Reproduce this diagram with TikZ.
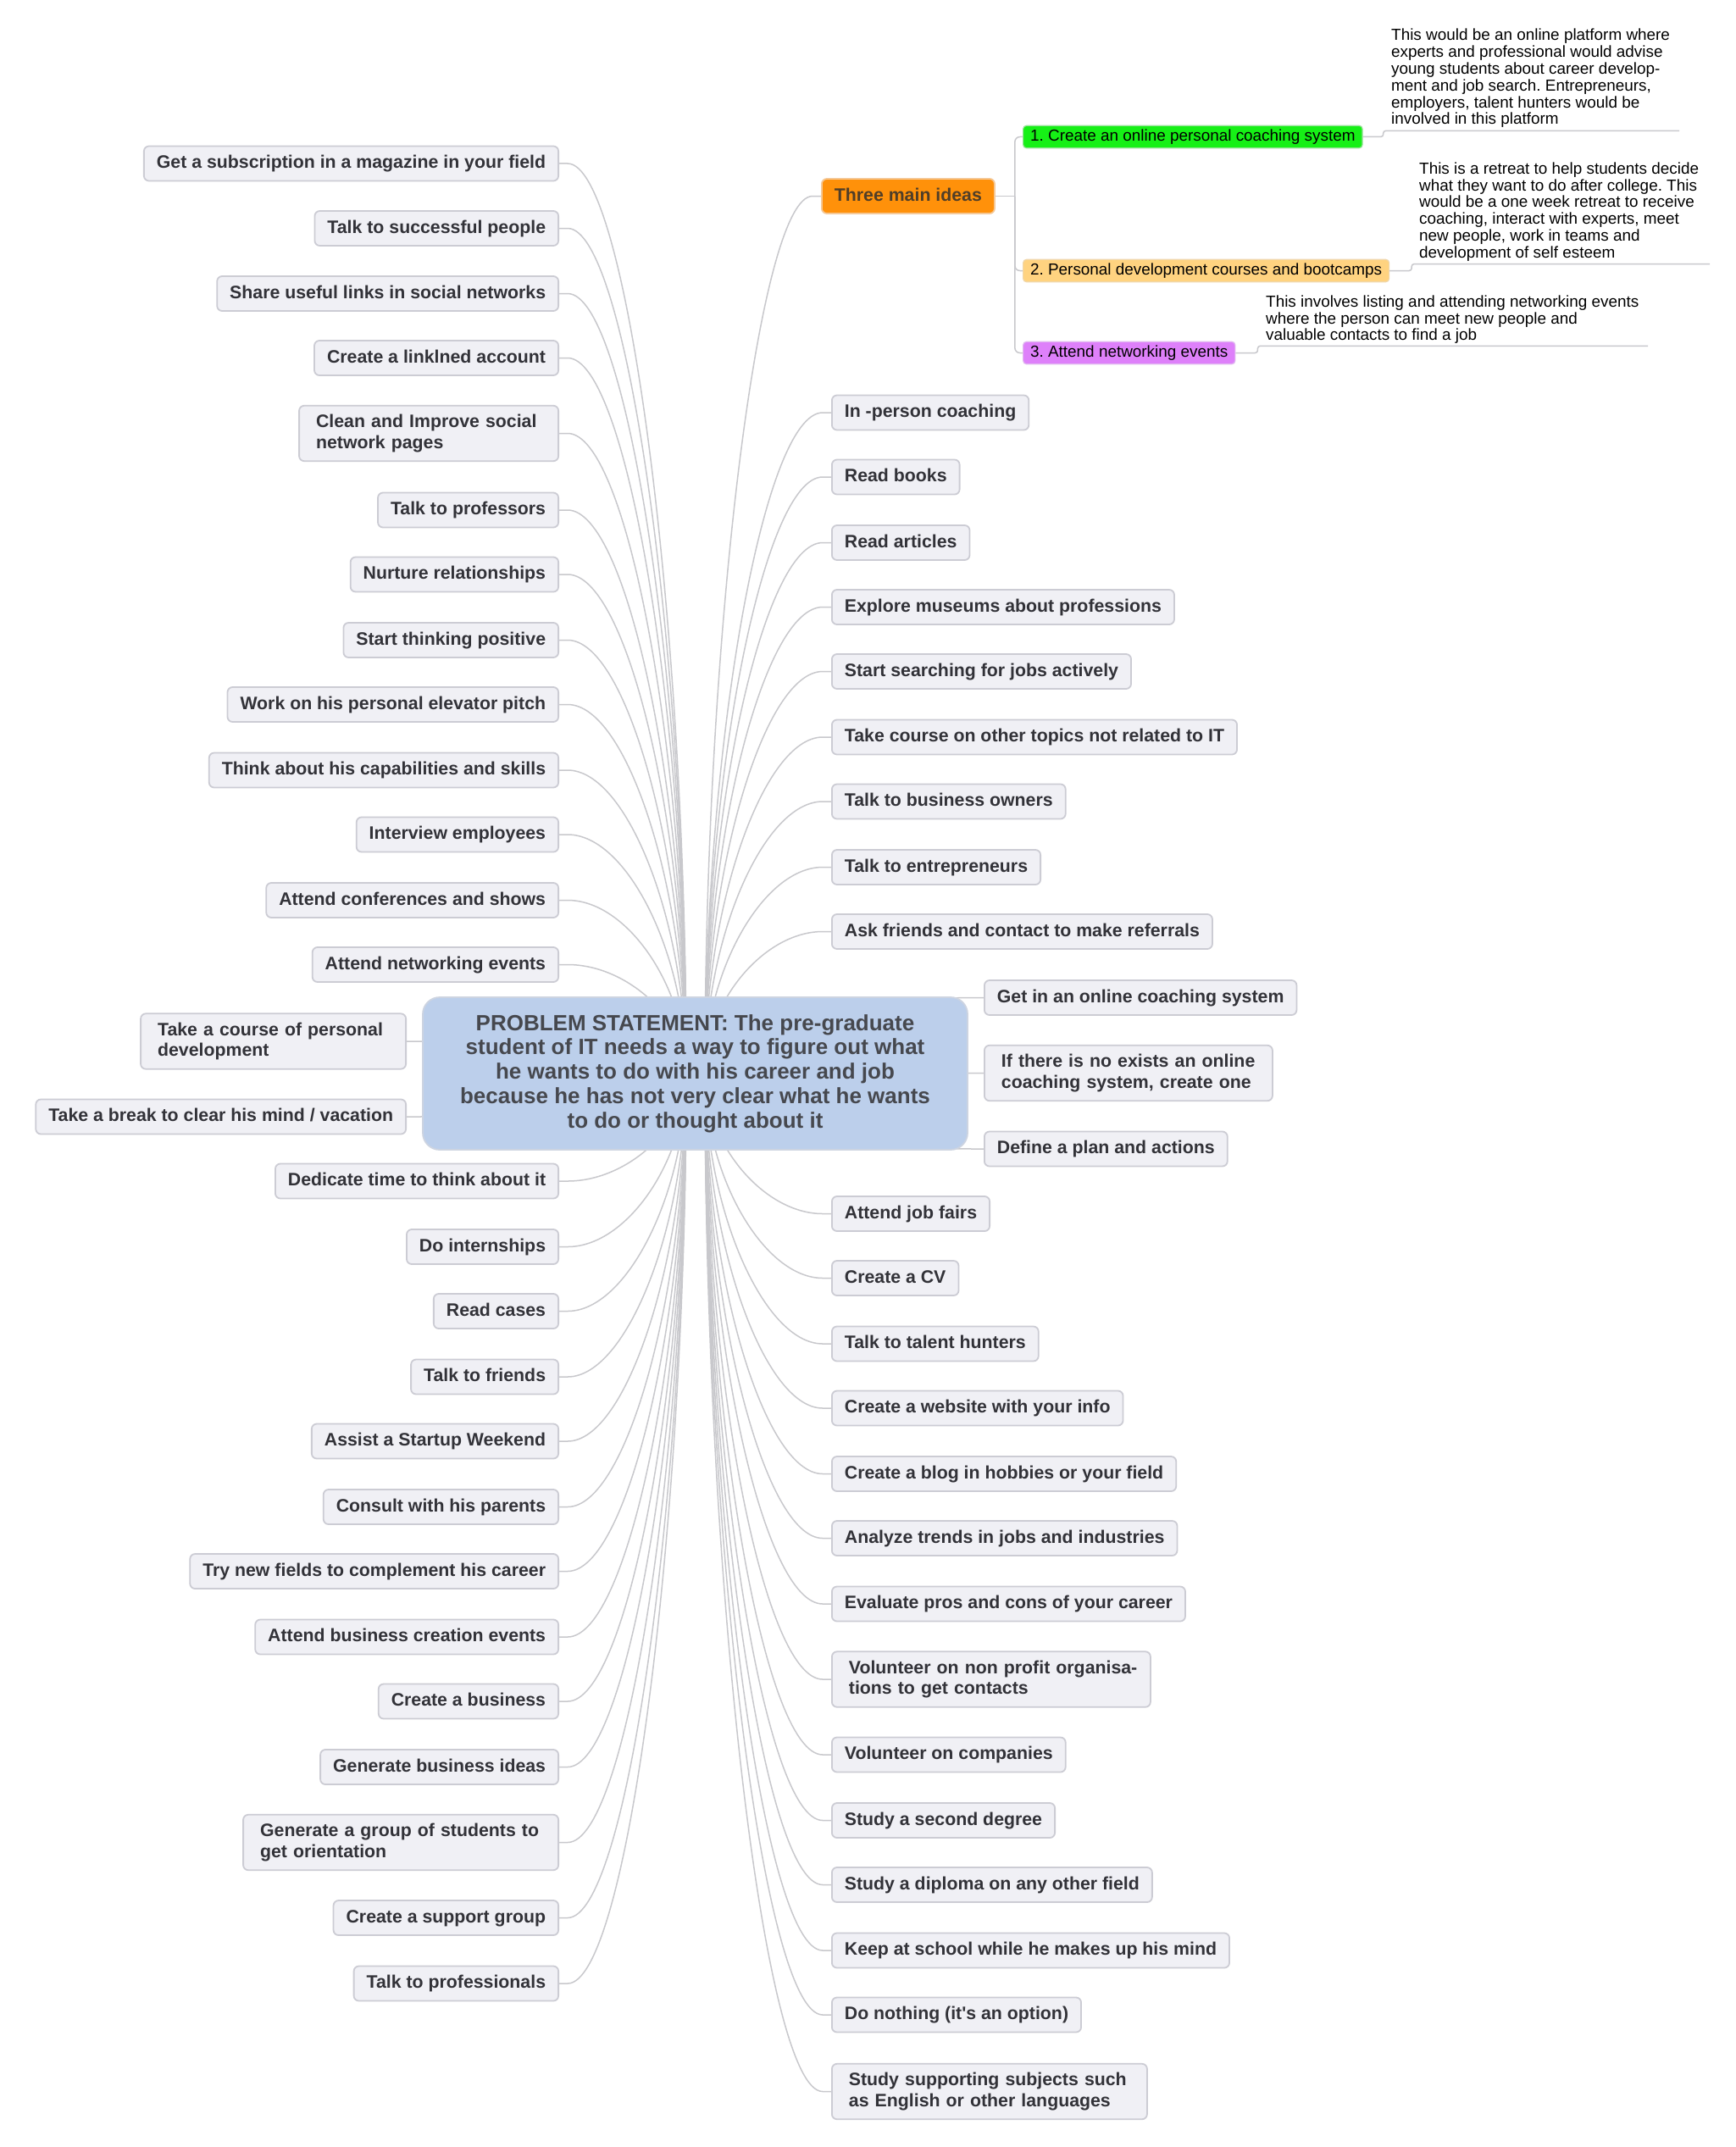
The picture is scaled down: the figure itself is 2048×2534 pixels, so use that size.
\documentclass[tikz,border=0pt]{standalone}
\usepackage{fontspec}
\setmainfont{Liberation Sans}
\usetikzlibrary{calc}
\pgfdeclarelayer{bg}
\pgfsetlayers{bg,main}
\frenchspacing
\definecolor{nodefill}{RGB}{240,240,245}
\definecolor{nodeline}{RGB}{204,204,212}
\definecolor{txt}{RGB}{50,50,56}
\definecolor{conncol}{RGB}{200,200,204}
\definecolor{rootfill}{RGB}{188,207,235}
\definecolor{rootline}{RGB}{205,212,225}
\definecolor{roottxt}{RGB}{70,72,78}
\definecolor{tmifill}{RGB}{255,145,10}
\definecolor{tmiline}{RGB}{245,200,150}
\definecolor{tmitxt}{RGB}{80,62,40}
\definecolor{greenfill}{RGB}{22,240,22}
\definecolor{greenline}{RGB}{150,225,150}
\definecolor{orfill}{RGB}{255,211,128}
\definecolor{orline}{RGB}{240,215,170}
\definecolor{purfill}{RGB}{222,128,250}
\definecolor{purline}{RGB}{225,185,240}
\newcommand\lconn[1]{\draw[conn] let \p1=(#1.east), \p2=(hubL) in (\p1) -- ++(10pt,0pt) .. controls ({(\x1+10pt+\x2)/2},\y1) and (\x2,{(\y1+\y2)/2}) .. (\p2);}
\newcommand\rconn[1]{\draw[conn] let \p1=(#1.west), \p2=(hubR) in (\p1) -- ++(-10pt,0pt) .. controls ({(\x1-10pt+\x2)/2},\y1) and (\x2,{(\y1+\y2)/2}) .. (\p2);}
\begin{document}
\begin{tikzpicture}[x=1pt,y=-1pt,
  conn/.style={draw=conncol, line width=1.5pt},
  box/.style={draw=nodeline, line width=1.8pt, fill=nodefill, rounded corners=6pt,
    inner xsep=15pt, inner ysep=10.5pt,
    font=\fontsize{21.3pt}{24.5pt}\selectfont\bfseries, text=txt},
  one/.style={box, text height=15.5pt, text depth=4.5pt},
  two/.style={box, inner xsep=20pt, align=left, text width=#1},
  lft/.style={one, anchor=east},
  rgt/.style={one, anchor=west},
  root/.style={draw=rootline, line width=1.8pt, fill=rootfill, rounded corners=20pt,
    minimum width=643pt, minimum height=180pt, inner sep=0pt, align=center,
    font=\fontsize{26pt}{28.8pt}\selectfont\bfseries, text=roottxt},
  sub/.style={rounded corners=4pt, line width=1.2pt, inner xsep=8.5pt, inner ysep=4pt,
    text height=14pt, text depth=4.5pt, anchor=west,
    font=\fontsize{18.9pt}{19.8pt}\selectfont, text=black},
  note/.style={inner sep=0pt, align=left, anchor=south west,
    font=\fontsize{18.9pt}{19.8pt}\selectfont, text=black}
]
\useasboundingbox (0,0) rectangle (2048,2534);
\begin{pgfonlayer}{bg}
\fill[white] (0,0) rectangle (2048,2534);
\end{pgfonlayer}

% root
\node[root] (root) at (820.5,1267) {PROBLEM STATEMENT: The pre-graduate\\student of IT needs a way to figure out what\\he wants to do with his career and job\\because he has not very clear what he wants\\to do or thought about it};
\coordinate (hubL) at (810,1267);
\coordinate (hubR) at (832,1267);

% left nodes
\node[lft] (l1) at (660,193) {Get a subscription in a magazine in your field};
\node[lft] (l2) at (660,269.5) {Talk to successful people};
\node[lft] (l3) at (660,346.5) {Share useful links in social networks};
\node[lft] (l4) at (660,422.5) {Create a linklned account};
\node[two=266pt, anchor=east] (l5) at (660,511.5) {\mbox{Clean and Improve social}\\\mbox{network pages}};
\node[lft] (l6) at (660,602) {Talk to professors};
\node[lft] (l7) at (660,678) {Nurture relationships};
\node[lft] (l8) at (660,755.5) {Start thinking positive};
\node[lft] (l9) at (660,831.5) {Work on his personal elevator pitch};
\node[lft] (l10) at (660,909) {Think about his capabilities and skills};
\node[lft] (l11) at (660,985) {Interview employees};
\node[lft] (l12) at (660,1062.5) {Attend conferences and shows};
\node[lft] (l13) at (660,1138.5) {Attend networking events};
\node[two=273pt, anchor=east] (l14) at (480,1229) {\mbox{Take a course of personal}\\\mbox{development}};
\node[lft] (l15) at (480,1318) {Take a break to clear his mind / vacation};
\node[lft] (l16) at (660,1394) {Dedicate time to think about it};
\node[lft] (l17) at (660,1471.5) {Do internships};
\node[lft] (l18) at (660,1547.5) {Read cases};
\node[lft] (l19) at (660,1625) {Talk to friends};
\node[lft] (l20) at (660,1701) {Assist a Startup Weekend};
\node[lft] (l21) at (660,1778.5) {Consult with his parents};
\node[lft] (l22) at (660,1854.5) {Try new fields to complement his career};
\node[lft] (l23) at (660,1932) {Attend business creation events};
\node[lft] (l24) at (660,2008) {Create a business};
\node[lft] (l25) at (660,2085.5) {Generate business ideas};
\node[two=332pt, anchor=east] (l26) at (660,2174.5) {\mbox{Generate a group of students to}\\\mbox{get orientation}};
\node[lft] (l27) at (660,2263.5) {Create a support group};
\node[lft] (l28) at (660,2341) {Talk to professionals};

% right nodes
\node[rgt, fill=tmifill, draw=tmiline, text=tmitxt] (tmi) at (969,231.5) {Three main ideas};
\node[rgt] (r1) at (981,487) {In -person coaching};
\node[rgt] (r2) at (981,563) {Read books};
\node[rgt] (r3) at (981,640.5) {Read articles};
\node[rgt] (r4) at (981,716.5) {Explore museums about professions};
\node[rgt] (r5) at (981,792.5) {Start searching for jobs actively};
\node[rgt] (r6) at (981,870) {Take course on other topics not related to IT};
\node[rgt] (r7) at (981,946) {Talk to business owners};
\node[rgt] (r8) at (981,1023.5) {Talk to entrepreneurs};
\node[rgt] (r9) at (981,1099.5) {Ask friends and contact to make referrals};
\node[rgt] (r10) at (1161,1177.5) {Get in an online coaching system};
\node[two=300pt, anchor=west] (r11) at (1161,1266.5) {\mbox{If there is no exists an online}\\\mbox{coaching system, create one}};
\node[rgt] (r12) at (1161,1356) {Define a plan and actions};
\node[rgt] (r13) at (981,1432.5) {Attend job fairs};
\node[rgt] (r14) at (981,1508.5) {Create a CV};
\node[rgt] (r15) at (981,1586) {Talk to talent hunters};
\node[rgt] (r16) at (981,1662) {Create a website with your info};
\node[rgt] (r17) at (981,1739.5) {Create a blog in hobbies or your field};
\node[rgt] (r18) at (981,1815.5) {Analyze trends in jobs and industries};
\node[rgt] (r19) at (981,1893) {Evaluate pros and cons of your career};
\node[two=336pt, anchor=west] (r20) at (981,1982) {\mbox{Volunteer on non profit organisa-}\\\mbox{tions to get contacts}};
\node[rgt] (r21) at (981,2071) {Volunteer on companies};
\node[rgt] (r22) at (981,2148.5) {Study a second degree};
\node[rgt] (r23) at (981,2224.5) {Study a diploma on any other field};
\node[rgt] (r24) at (981,2302) {Keep at school while he makes up his mind};
\node[rgt] (r25) at (981,2378) {Do nothing (it\textquotesingle s an option)};
\node[two=332pt, anchor=west] (r26) at (981,2468.5) {\mbox{Study supporting subjects such}\\\mbox{as English or other languages}};

% three main ideas children
\node[sub, fill=greenfill, draw=greenline] (s1) at (1207,161.5) {1. Create an online personal coaching system};
\node[sub, fill=orfill, draw=orline] (s2) at (1207,319.5) {2. Personal development courses and bootcamps};
\node[sub, fill=purfill, draw=purline] (s3) at (1207,416.5) {3. Attend networking events};

% notes
\node[note] (n1) at (1642,151) {This would be an online platform where\\experts and professional would advise\\young students about career develop-\\ment and job search. Entrepreneurs,\\employers, talent hunters would be\\involved in this platform};
\node[note] (n2) at (1675,308.5) {This is a retreat to help students decide\\what they want to do after college. This\\would be a one week retreat to receive\\coaching, interact with experts, meet\\new people, work in teams and\\development of self esteem};
\node[note] (n3) at (1494,406) {This involves listing and attending networking events\\where the person can meet new people and\\valuable contacts to find a job};
\coordinate (u1) at (1982,154.3);
\coordinate (u2) at (2018,311.5);
\coordinate (u3) at (1945,408.3);

\begin{pgfonlayer}{bg}
\foreach \i in {1,...,28} {\lconn{l\i}}
\foreach \i in {1,...,26} {\rconn{r\i}}
\rconn{tmi}
\draw[conn] (tmi.east) -- ++(23pt,0pt) coordinate (tj);
\draw[conn, rounded corners=6pt] (tj) |- (s1.west);
\draw[conn, rounded corners=6pt] (tj) |- (s2.west);
\draw[conn, rounded corners=6pt] (tj) |- (s3.west);
\draw[conn, rounded corners=3pt] (s1.east) -- ++(24pt,0pt) |- (u1);
\draw[conn, rounded corners=3pt] (s2.east) -- ++(26pt,0pt) |- (u2);
\draw[conn, rounded corners=3pt] (s3.east) -- ++(26pt,0pt) |- (u3);
\end{pgfonlayer}
\end{tikzpicture}
\end{document}
